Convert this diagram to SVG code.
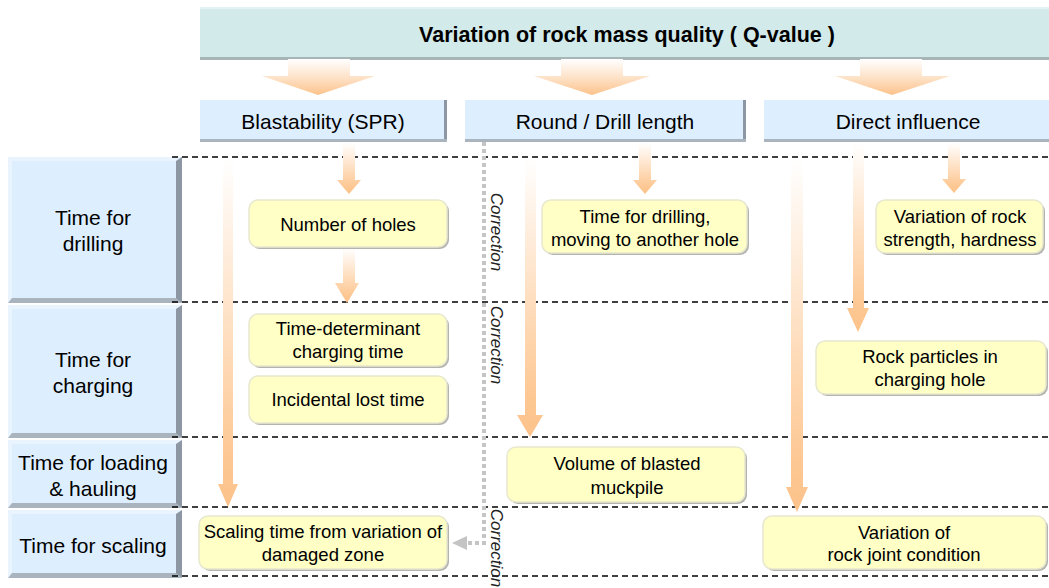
<svg xmlns="http://www.w3.org/2000/svg" width="1049" height="588" viewBox="0 0 1049 588">
<defs>
<linearGradient id="og" x1="0" y1="0" x2="0" y2="1">
<stop offset="0" stop-color="#ffffff"/>
<stop offset="0.85" stop-color="#fdc894"/>
<stop offset="1" stop-color="#fcc28a"/>
</linearGradient>
<linearGradient id="bg" x1="0" y1="0" x2="0" y2="1">
<stop offset="0" stop-color="#ffffff"/>
<stop offset="0.55" stop-color="#fde0c4"/>
<stop offset="1" stop-color="#fcc28a"/>
</linearGradient>
<style>
text{font-family:"Liberation Sans",Arial,sans-serif;fill:#000;text-anchor:middle}
.t18{font-size:18.5px}
.t21{font-size:21px}
.ban{font-size:21.5px;font-weight:bold}
.cor{font-size:17px;font-style:italic;fill:#222}
.hb{fill:#ddeeff}
.rs{fill:#8d97a3}
.bs{fill:#aab4be}
.lt{fill:#e9f4ff}
.yb{fill:#ffffc6;stroke:#e8e8d0;stroke-width:1.5}
.ys{fill:#b4b4ae}
.dash{stroke:#000;stroke-width:1.3;stroke-dasharray:6 4;fill:none}
.arr{fill:url(#og)}
.big{fill:url(#bg)}
.dot{stroke:#c4c4c4;stroke-width:4;stroke-dasharray:4 3;fill:none}
</style>
</defs>
<rect width="1049" height="588" fill="#ffffff"/>

<g id="banner">
<rect x="200" y="7" width="849" height="53" fill="#d2eaea"/>
<rect x="200" y="7" width="849" height="2" fill="#e3f3f3"/>
<rect x="200" y="57" width="849" height="3" fill="#a6b6b6"/>
<text class="ban" x="627" y="42">Variation of rock mass quality ( Q-value )</text>
</g>

<g id="big-arrows">
<path class="big" d="M288,59 H350 V76 H375 L318,95 L262,76 H288 Z"/>
<path class="big" d="M561,59 H623 V76 H650 L592,95 L534,76 H561 Z"/>
<path class="big" d="M860,59 H922 V76 H950 L892,95 L835,76 H860 Z"/>
</g>

<g id="hdr-blast">
<rect class="hb" x="200" y="100" width="247" height="42"/>
<rect class="rs" x="444" y="100" width="3" height="42"/>
<rect class="bs" x="200" y="139" width="247" height="3"/>
<text class="t21" x="323" y="129">Blastability (SPR)</text>
</g>
<g id="hdr-round">
<rect class="hb" x="465" y="100" width="281" height="42"/>
<rect class="rs" x="743" y="100" width="3" height="42"/>
<rect class="bs" x="465" y="139" width="281" height="3"/>
<text class="t21" x="605" y="129">Round / Drill length</text>
</g>
<g id="hdr-direct">
<rect class="hb" x="764" y="100" width="285" height="42"/>
<rect class="bs" x="764" y="139" width="285" height="3"/>
<text class="t21" x="908" y="129">Direct influence</text>
</g>

<g id="row-drilling">
<rect class="hb" x="8" y="157" width="174" height="146"/>
<polygon class="lt" points="8,157 182,157 176,161 12,161"/>
<polygon class="lt" points="8,157 12,161 12,299 8,303"/>
<polygon class="rs" points="182,157 182,303 176,299 176,161"/>
<polygon class="bs" points="8,303 182,303 176,298 12,298"/>
<text class="t21" x="93" y="225">Time for</text>
<text class="t21" x="93" y="251">drilling</text>
</g>
<g id="row-charging">
<rect class="hb" x="8" y="305" width="174" height="133"/>
<polygon class="lt" points="8,305 182,305 176,309 12,309"/>
<polygon class="lt" points="8,305 12,309 12,434 8,438"/>
<polygon class="rs" points="182,305 182,438 176,434 176,309"/>
<polygon class="bs" points="8,438 182,438 176,433 12,433"/>
<text class="t21" x="93" y="367">Time for</text>
<text class="t21" x="93" y="393">charging</text>
</g>
<g id="row-loading">
<rect class="hb" x="8" y="440" width="174" height="68"/>
<polygon class="lt" points="8,440 182,440 176,444 12,444"/>
<polygon class="lt" points="8,440 12,444 12,504 8,508"/>
<polygon class="rs" points="182,440 182,508 176,504 176,444"/>
<polygon class="bs" points="8,508 182,508 176,503 12,503"/>
<text class="t21" x="93" y="470">Time for loading</text>
<text class="t21" x="93" y="496">&amp; hauling</text>
</g>
<g id="row-scaling">
<rect class="hb" x="8" y="510" width="174" height="68"/>
<polygon class="lt" points="8,510 182,510 176,514 12,514"/>
<polygon class="lt" points="8,510 12,514 12,574 8,578"/>
<polygon class="rs" points="182,510 182,578 176,574 176,514"/>
<polygon class="bs" points="8,578 182,578 176,573 12,573"/>
<text class="t21" x="93" y="553">Time for scaling</text>
</g>

<g id="grid">
<line class="dash" x1="172" y1="157" x2="1049" y2="157"/>
<line class="dash" x1="172" y1="302" x2="1049" y2="302"/>
<line class="dash" x1="172" y1="437" x2="1049" y2="437"/>
<line class="dash" x1="172" y1="507" x2="1049" y2="507"/>
<line class="dash" x1="172" y1="576" x2="1049" y2="576"/>
</g>

<g id="connectors">
<path class="arr" d="M343,143 H355 V180 H361 L349,194 L337,180 H343 Z"/>
<path class="arr" d="M343,248 H355 V283 H359 L347,303 L335,283 H343 Z"/>
<path class="arr" d="M223,158 H233 V484 H238 L228,507 L218,484 H223 Z"/>
<path class="arr" d="M639,143 H651 V180 H657 L645,194 L633,180 H639 Z"/>
<path class="arr" d="M525,158 H536 V415 H543 L530,437 L517,415 H525 Z"/>
<path class="arr" d="M948,143 H960 V179 H966 L954,193 L942,179 H948 Z"/>
<path class="arr" d="M853,143 H864 V308 H869 L858,332 L847,308 H853 Z"/>
<path class="arr" d="M791,158 H803 V487 H808 L797,512 L786,487 H791 Z"/>
<polyline class="dot" points="484,142 484,543 468,543"/>
<polygon points="467,536 467,550 452,543" fill="#c4c4c4"/>
<text class="cor" transform="translate(491,232) rotate(90)">Correction</text>
<text class="cor" transform="translate(491,345) rotate(90)">Correction</text>
<text class="cor" transform="translate(491,548) rotate(90)">Correction</text>
</g>

<g id="n-holes">
<rect class="ys" x="251" y="202" width="198" height="47" rx="9"/>
<rect class="yb" x="249" y="200" width="198" height="47" rx="9"/>
<text class="t18" x="348" y="231">Number of holes</text>
</g>
<g id="n-timedet">
<rect class="ys" x="251" y="316" width="198" height="52" rx="9"/>
<rect class="yb" x="249" y="314" width="198" height="52" rx="9"/>
<text class="t18" x="348" y="335">Time-determinant</text>
<text class="t18" x="348" y="358">charging time</text>
</g>
<g id="n-incidental">
<rect class="ys" x="251" y="378" width="198" height="47" rx="9"/>
<rect class="yb" x="249" y="376" width="198" height="47" rx="9"/>
<text class="t18" x="348" y="406">Incidental lost time</text>
</g>
<g id="n-scalingtime">
<rect class="ys" x="201" y="518" width="248" height="53" rx="9"/>
<rect class="yb" x="199" y="516" width="248" height="53" rx="9"/>
<text class="t18" x="323" y="538">Scaling time from variation of</text>
<text class="t18" x="323" y="561">damaged zone</text>
</g>
<g id="n-drilltime">
<rect class="ys" x="544" y="202" width="205" height="53" rx="9"/>
<rect class="yb" x="542" y="200" width="205" height="53" rx="9"/>
<text class="t18" x="645" y="223">Time for drilling,</text>
<text class="t18" x="645" y="246">moving to another hole</text>
</g>
<g id="n-strength">
<rect class="ys" x="878" y="202" width="167" height="53" rx="9"/>
<rect class="yb" x="876" y="200" width="167" height="53" rx="9"/>
<text class="t18" x="960" y="223">Variation of rock</text>
<text class="t18" x="960" y="246">strength, hardness</text>
</g>
<g id="n-particles">
<rect class="ys" x="818" y="343" width="230" height="53" rx="9"/>
<rect class="yb" x="816" y="341" width="230" height="53" rx="9"/>
<text class="t18" x="930" y="363">Rock particles in</text>
<text class="t18" x="930" y="386">charging hole</text>
</g>
<g id="n-volume">
<rect class="ys" x="509" y="449" width="238" height="55" rx="9"/>
<rect class="yb" x="507" y="447" width="238" height="55" rx="9"/>
<text class="t18" x="627" y="470">Volume of blasted</text>
<text class="t18" x="627" y="494">muckpile</text>
</g>
<g id="n-joint">
<rect class="ys" x="765" y="518" width="283" height="53" rx="9"/>
<rect class="yb" x="763" y="516" width="283" height="53" rx="9"/>
<text class="t18" x="904" y="539">Variation of</text>
<text class="t18" x="904" y="561">rock joint condition</text>
</g>
</svg>
